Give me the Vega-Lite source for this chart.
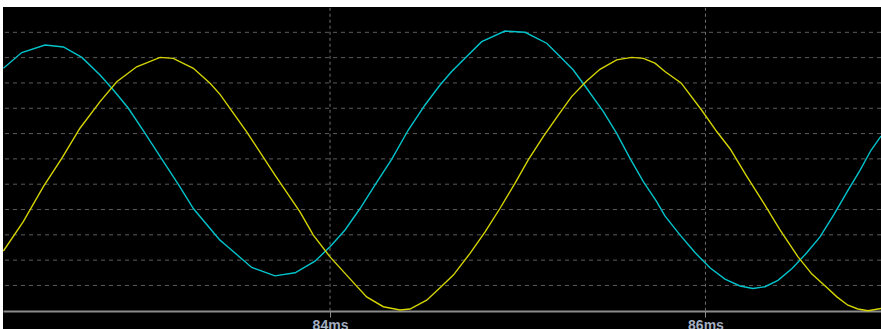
{
  "$schema": "https://vega.github.io/schema/vega-lite/v6.json",
  "width": 878,
  "height": 322,
  "autosize": {"type": "none"},
  "padding": {"left": 3, "top": 7, "right": 0, "bottom": 0},
  "background": "white",
  "config": {"view": {"fill": "black", "stroke": null}},
  "datasets": {
    "levels": [{"lv": 1}, {"lv": 2}, {"lv": 3}, {"lv": 4}, {"lv": 5}, {"lv": 6}, {"lv": 7}, {"lv": 8}, {"lv": 9}, {"lv": 10}, {"lv": 11}],
    "markers": [{"t": 84}, {"t": 86}],
    "waves": [
      {"ch": "CH2", "t": 82.260, "v": 9.58},
      {"ch": "CH2", "t": 82.358, "v": 10.20},
      {"ch": "CH2", "t": 82.482, "v": 10.50},
      {"ch": "CH2", "t": 82.580, "v": 10.42},
      {"ch": "CH2", "t": 82.678, "v": 10.01},
      {"ch": "CH2", "t": 82.775, "v": 9.31},
      {"ch": "CH2", "t": 82.846, "v": 8.72},
      {"ch": "CH2", "t": 82.926, "v": 8.00},
      {"ch": "CH2", "t": 83.015, "v": 7.01},
      {"ch": "CH2", "t": 83.104, "v": 5.99},
      {"ch": "CH2", "t": 83.192, "v": 4.99},
      {"ch": "CH2", "t": 83.272, "v": 4.04},
      {"ch": "CH2", "t": 83.361, "v": 3.25},
      {"ch": "CH2", "t": 83.414, "v": 2.79},
      {"ch": "CH2", "t": 83.441, "v": 2.62},
      {"ch": "CH2", "t": 83.583, "v": 1.71},
      {"ch": "CH2", "t": 83.707, "v": 1.38},
      {"ch": "CH2", "t": 83.814, "v": 1.50},
      {"ch": "CH2", "t": 83.920, "v": 1.96},
      {"ch": "CH2", "t": 84.000, "v": 2.53},
      {"ch": "CH2", "t": 84.080, "v": 3.19},
      {"ch": "CH2", "t": 84.160, "v": 4.04},
      {"ch": "CH2", "t": 84.240, "v": 4.97},
      {"ch": "CH2", "t": 84.329, "v": 5.99},
      {"ch": "CH2", "t": 84.417, "v": 7.14},
      {"ch": "CH2", "t": 84.506, "v": 8.13},
      {"ch": "CH2", "t": 84.586, "v": 8.92},
      {"ch": "CH2", "t": 84.648, "v": 9.45},
      {"ch": "CH2", "t": 84.728, "v": 10.04},
      {"ch": "CH2", "t": 84.808, "v": 10.63},
      {"ch": "CH2", "t": 84.932, "v": 11.05},
      {"ch": "CH2", "t": 85.039, "v": 11.00},
      {"ch": "CH2", "t": 85.154, "v": 10.57},
      {"ch": "CH2", "t": 85.225, "v": 10.04},
      {"ch": "CH2", "t": 85.296, "v": 9.51},
      {"ch": "CH2", "t": 85.367, "v": 8.79},
      {"ch": "CH2", "t": 85.456, "v": 7.87},
      {"ch": "CH2", "t": 85.527, "v": 7.01},
      {"ch": "CH2", "t": 85.598, "v": 6.02},
      {"ch": "CH2", "t": 85.669, "v": 5.10},
      {"ch": "CH2", "t": 85.740, "v": 4.31},
      {"ch": "CH2", "t": 85.784, "v": 3.75},
      {"ch": "CH2", "t": 85.864, "v": 3.00},
      {"ch": "CH2", "t": 85.944, "v": 2.30},
      {"ch": "CH2", "t": 86.024, "v": 1.70},
      {"ch": "CH2", "t": 86.104, "v": 1.25},
      {"ch": "CH2", "t": 86.184, "v": 0.98},
      {"ch": "CH2", "t": 86.253, "v": 0.88},
      {"ch": "CH2", "t": 86.317, "v": 0.95},
      {"ch": "CH2", "t": 86.386, "v": 1.20},
      {"ch": "CH2", "t": 86.461, "v": 1.67},
      {"ch": "CH2", "t": 86.535, "v": 2.25},
      {"ch": "CH2", "t": 86.610, "v": 2.92},
      {"ch": "CH2", "t": 86.684, "v": 3.80},
      {"ch": "CH2", "t": 86.759, "v": 4.76},
      {"ch": "CH2", "t": 86.823, "v": 5.55},
      {"ch": "CH2", "t": 86.881, "v": 6.33},
      {"ch": "CH2", "t": 86.935, "v": 6.90},
      {"ch": "CH1", "t": 82.260, "v": 2.36},
      {"ch": "CH1", "t": 82.366, "v": 3.52},
      {"ch": "CH1", "t": 82.473, "v": 4.90},
      {"ch": "CH1", "t": 82.571, "v": 6.02},
      {"ch": "CH1", "t": 82.668, "v": 7.21},
      {"ch": "CH1", "t": 82.775, "v": 8.26},
      {"ch": "CH1", "t": 82.864, "v": 9.05},
      {"ch": "CH1", "t": 82.970, "v": 9.64},
      {"ch": "CH1", "t": 83.095, "v": 10.01},
      {"ch": "CH1", "t": 83.165, "v": 9.97},
      {"ch": "CH1", "t": 83.272, "v": 9.58},
      {"ch": "CH1", "t": 83.361, "v": 8.99},
      {"ch": "CH1", "t": 83.414, "v": 8.55},
      {"ch": "CH1", "t": 83.556, "v": 7.07},
      {"ch": "CH1", "t": 83.707, "v": 5.36},
      {"ch": "CH1", "t": 83.840, "v": 3.91},
      {"ch": "CH1", "t": 83.911, "v": 2.99},
      {"ch": "CH1", "t": 84.000, "v": 2.13},
      {"ch": "CH1", "t": 84.097, "v": 1.34},
      {"ch": "CH1", "t": 84.195, "v": 0.55},
      {"ch": "CH1", "t": 84.284, "v": 0.16},
      {"ch": "CH1", "t": 84.373, "v": 0.03},
      {"ch": "CH1", "t": 84.426, "v": 0.07},
      {"ch": "CH1", "t": 84.515, "v": 0.42},
      {"ch": "CH1", "t": 84.586, "v": 0.91},
      {"ch": "CH1", "t": 84.657, "v": 1.41},
      {"ch": "CH1", "t": 84.746, "v": 2.27},
      {"ch": "CH1", "t": 84.826, "v": 3.12},
      {"ch": "CH1", "t": 84.905, "v": 4.04},
      {"ch": "CH1", "t": 84.985, "v": 5.03},
      {"ch": "CH1", "t": 85.056, "v": 5.96},
      {"ch": "CH1", "t": 85.136, "v": 6.88},
      {"ch": "CH1", "t": 85.216, "v": 7.73},
      {"ch": "CH1", "t": 85.287, "v": 8.46},
      {"ch": "CH1", "t": 85.367, "v": 9.08},
      {"ch": "CH1", "t": 85.438, "v": 9.54},
      {"ch": "CH1", "t": 85.527, "v": 9.91},
      {"ch": "CH1", "t": 85.607, "v": 10.01},
      {"ch": "CH1", "t": 85.669, "v": 9.97},
      {"ch": "CH1", "t": 85.731, "v": 9.78},
      {"ch": "CH1", "t": 85.784, "v": 9.45},
      {"ch": "CH1", "t": 85.870, "v": 9.00},
      {"ch": "CH1", "t": 85.981, "v": 7.91},
      {"ch": "CH1", "t": 86.061, "v": 7.07},
      {"ch": "CH1", "t": 86.131, "v": 6.40},
      {"ch": "CH1", "t": 86.216, "v": 5.36},
      {"ch": "CH1", "t": 86.312, "v": 4.23},
      {"ch": "CH1", "t": 86.397, "v": 3.20},
      {"ch": "CH1", "t": 86.493, "v": 2.13},
      {"ch": "CH1", "t": 86.567, "v": 1.45},
      {"ch": "CH1", "t": 86.642, "v": 0.95},
      {"ch": "CH1", "t": 86.700, "v": 0.55},
      {"ch": "CH1", "t": 86.759, "v": 0.22},
      {"ch": "CH1", "t": 86.812, "v": 0.07},
      {"ch": "CH1", "t": 86.866, "v": 0.00},
      {"ch": "CH1", "t": 86.935, "v": 0.09}
    ]
  },
  "layer": [
    {
      "data": {"name": "levels"},
      "mark": {"type": "rule", "color": "#5c5c5c", "strokeWidth": 1, "strokeDash": [4, 4]},
      "encoding": {
        "y": {
          "field": "lv", "type": "quantitative",
          "scale": {"domain": [-0.72, 12], "nice": false, "zero": false},
          "axis": null
        }
      }
    },
    {
      "data": {"name": "markers"},
      "mark": {"type": "rule", "color": "#707070", "strokeWidth": 1, "strokeDash": [3, 3]},
      "encoding": {
        "x": {
          "field": "t", "type": "quantitative",
          "scale": {"domain": [82.258, 86.935], "nice": false, "zero": false},
          "axis": {
            "values": [84, 86], "labelExpr": "datum.value + 'ms'", "grid": false,
            "offset": -18, "domainColor": "#8c8c8c", "domainWidth": 2,
            "tickColor": "#8c8c8c", "tickSize": 6, "tickWidth": 1,
            "labelFont": "Liberation Sans", "labelFontWeight": "bold", "labelFontSize": 14,
            "labelColor": "#a3afc2", "labelPadding": 1, "labelFlush": false, "title": null
          }
        },
        "y": {"datum": 0, "type": "quantitative", "axis": null},
        "y2": {"datum": 12}
      }
    },
    {
      "data": {"name": "waves"},
      "mark": {"type": "line", "strokeWidth": 1.4, "clip": true},
      "encoding": {
        "x": {"field": "t", "type": "quantitative"},
        "y": {"field": "v", "type": "quantitative", "axis": null},
        "color": {
          "field": "ch", "type": "nominal",
          "scale": {"domain": ["CH1", "CH2"], "range": ["#d4d400", "#00c4cc"]},
          "legend": null
        }
      }
    }
  ]
}
